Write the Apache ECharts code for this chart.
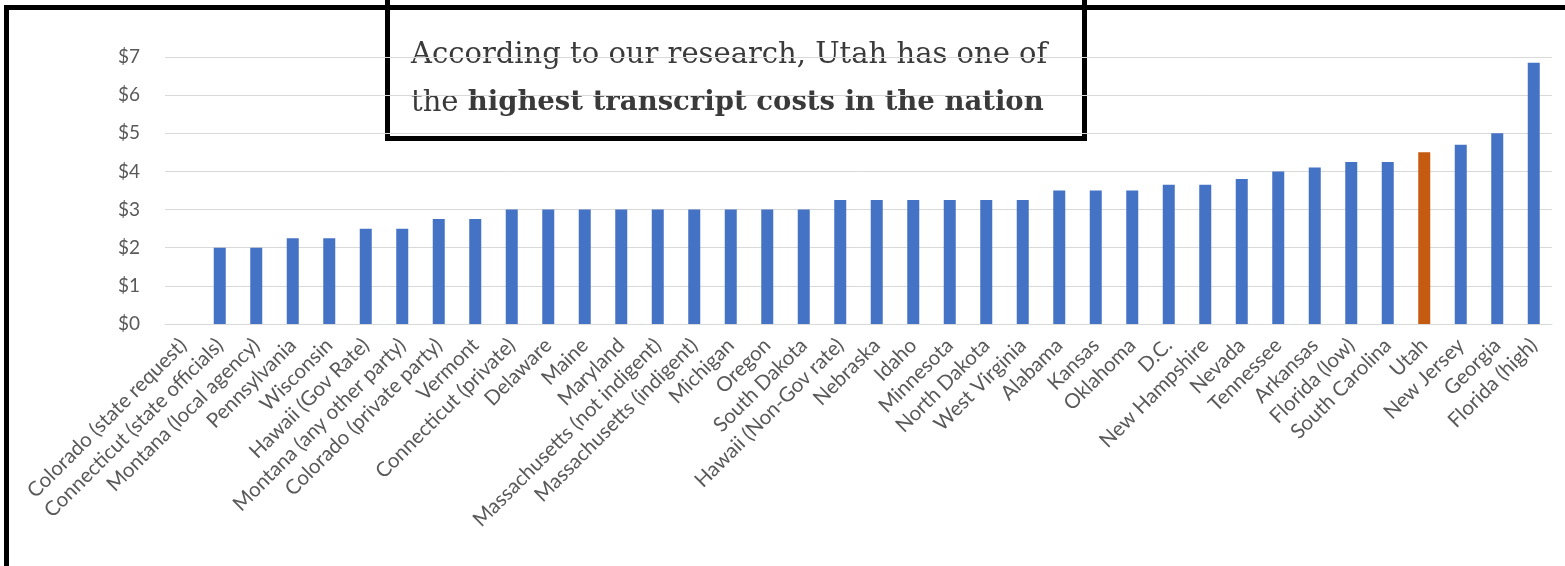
<!DOCTYPE html>
<html>
<head>
<meta charset="utf-8">
<title>Transcript costs</title>
<script src="https://cdn.jsdelivr.net/npm/echarts@6/dist/echarts.min.js"></script>
<style>
  html, body { margin: 0; padding: 0; background: #fff; }
  #chart { width: 1565px; height: 566px; }
</style>
</head>
<body>
<div id="chart"></div>
<script>
  const states = [
    'Colorado (state request)', 'Connecticut (state officials)', 'Montana (local agency)',
    'Pennsylvania', 'Wisconsin', 'Hawaii (Gov Rate)', 'Montana (any other party)',
    'Colorado (private party)', 'Vermont', 'Connecticut (private)', 'Delaware', 'Maine',
    'Maryland', 'Massachusetts (not indigent)', 'Massachusetts (indigent)', 'Michigan',
    'Oregon', 'South Dakota', 'Hawaii (Non-Gov rate)', 'Nebraska', 'Idaho', 'Minnesota',
    'North Dakota', 'West Virginia', 'Alabama', 'Kansas', 'Oklahoma', 'D.C.',
    'New Hampshire', 'Nevada', 'Tennessee', 'Arkansas', 'Florida (low)', 'South Carolina',
    'Utah', 'New Jersey', 'Georgia', 'Florida (high)'
  ]
  const costs = [
    0, 2, 2, 2.25, 2.25, 2.5, 2.5, 2.75, 2.75, 3, 3, 3,
    3, 3, 3, 3, 3, 3, 3.25, 3.25, 3.25, 3.25, 3.25, 3.25,
    3.5, 3.5, 3.5, 3.65, 3.65, 3.8, 4, 4.1, 4.25, 4.25,
    4.5, 4.7, 5, 6.85
  ]
  const highlight = 'Utah'
  const yTicks = [0, 1, 2, 3, 4, 5, 6, 7]

  const blue = '#4472C4'
  const orange = '#C55A11'
  const labelColor = '#595959'

  let myChart = echarts.init(document.getElementById('chart'))

  let option = {
    animation: false,
    grid: {
      left: 165,
      right: 13,
      top: 57,
      bottom: 242,
      containLabel: false
    },
    xAxis: {
      type: 'category',
      data: states,
      axisLine: { lineStyle: { color: '#D9D9D9', width: 1 } },
      axisTick: { show: false },
      axisLabel: {
        interval: 0,
        rotate: 45,
        margin: 18,
        color: labelColor,
        fontFamily: 'Lato',
        fontSize: 20.5
      }
    },
    yAxis: {
      type: 'value',
      min: yTicks[0],
      max: yTicks[yTicks.length - 1],
      interval: 1,
      axisLine: { show: false },
      axisTick: { show: false },
      splitLine: { lineStyle: { color: '#D9D9D9', width: 1 } },
      axisLabel: {
        margin: 25,
        color: labelColor,
        fontFamily: 'Lato',
        fontSize: 19,
        formatter: function (v) {
          return '$' + v
        }
      }
    },
    series: [
      {
        type: 'bar',
        barWidth: 12,
        data: costs.map((v, i) => ({
          value: v,
          itemStyle: { color: states[i] === highlight ? orange : blue }
        }))
      }
    ],
    graphic: [
      // outer frame, its right and bottom sides run off the picture
      {
        type: 'rect',
        z: 10,
        shape: { x: 6.5, y: 7.5, width: 1700, height: 800 },
        style: { fill: 'none', stroke: '#000', lineWidth: 5 }
      },
      // callout box
      {
        type: 'group',
        z: 20,
        children: [
          {
            type: 'rect',
            shape: { x: 387.5, y: -20, width: 697, height: 158.5 },
            style: { fill: '#fff', stroke: '#000', lineWidth: 5 }
          },
          {
            type: 'text',
            x: 411,
            y: 31,
            style: {
              text: 'According to our research, Utah has one of\nthe {b|highest transcript costs in the nation}',
              fontFamily: 'DejaVu Serif',
              fontSize: 29,
              lineHeight: 48,
              fill: '#3a3a3a',
              verticalAlign: 'top',
              rich: {
                b: {
                  fontFamily: 'DejaVu Serif',
                  fontSize: 27.5,
                  fontWeight: 'bold',
                  lineHeight: 48,
                  fill: '#3a3a3a'
                }
              }
            }
          }
        ]
      }
    ]
  }

  myChart.setOption(option)
  window.addEventListener('resize', () => myChart.resize())
</script>
</body>
</html>
